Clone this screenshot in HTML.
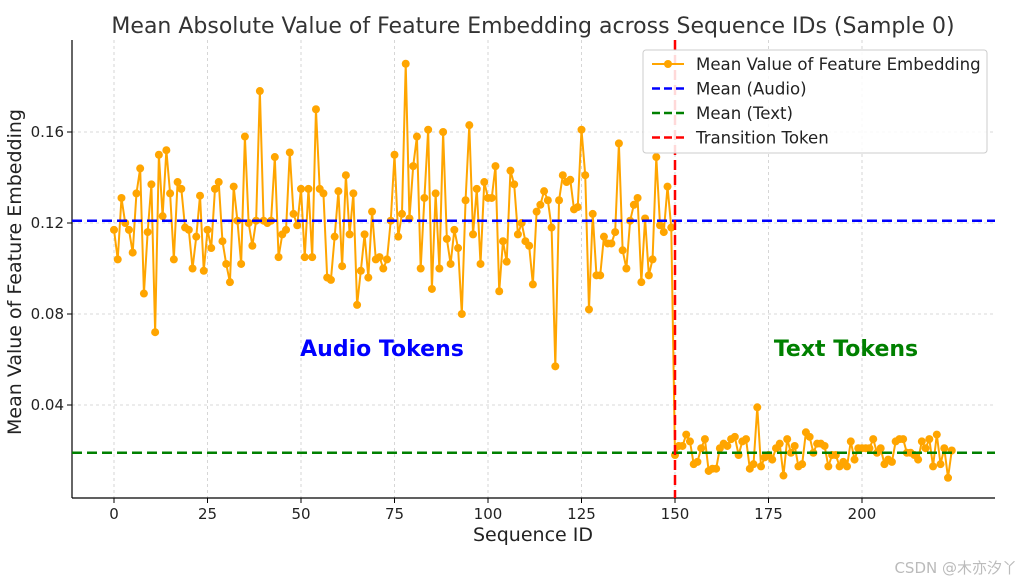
<!DOCTYPE html>
<html><head><meta charset="utf-8"><style>
body{margin:0;background:#fff;font-family:"DejaVu Sans",sans-serif}
svg text{font-family:"DejaVu Sans","Liberation Sans",sans-serif}
</style></head><body>
<svg id="c" width="1024" height="584"></svg>
<script>
const audioVals=[0.117,0.104,0.131,0.120,0.117,0.107,0.133,0.144,0.089,0.116,0.137,0.072,0.150,0.123,0.152,0.133,0.104,0.138,0.135,0.118,0.117,0.100,0.114,0.132,0.099,0.117,0.109,0.135,0.138,0.112,0.102,0.094,0.136,0.121,0.102,0.158,0.120,0.110,0.121,0.178,0.121,0.120,0.121,0.149,0.105,0.115,0.117,0.151,0.124,0.119,0.135,0.105,0.135,0.105,0.170,0.135,0.133,0.096,0.095,0.114,0.134,0.101,0.141,0.115,0.133,0.084,0.099,0.115,0.096,0.125,0.104,0.105,0.100,0.104,0.121,0.150,0.114,0.124,0.190,0.122,0.145,0.158,0.100,0.131,0.161,0.091,0.133,0.100,0.160,0.113,0.102,0.117,0.109,0.080,0.130,0.163,0.115,0.135,0.102,0.138,0.131,0.131,0.145,0.090,0.112,0.103,0.143,0.137,0.115,0.120,0.112,0.110,0.093,0.125,0.128,0.134,0.130,0.118,0.057,0.130,0.141,0.138,0.139,0.126,0.127,0.161,0.141,0.082,0.124,0.097,0.097,0.114,0.111,0.111,0.116,0.155,0.108,0.100,0.121,0.128,0.131,0.094,0.122,0.097,0.104,0.149,0.119,0.116,0.136,0.118];
const textVals=[0.018,0.022,0.022,0.027,0.024,0.014,0.015,0.021,0.025,0.011,0.012,0.012,0.021,0.023,0.022,0.025,0.026,0.018,0.024,0.025,0.012,0.014,0.039,0.013,0.017,0.018,0.016,0.021,0.023,0.009,0.025,0.019,0.022,0.013,0.014,0.028,0.026,0.019,0.023,0.023,0.022,0.013,0.018,0.018,0.013,0.015,0.013,0.024,0.016,0.021,0.021,0.021,0.021,0.025,0.019,0.021,0.014,0.016,0.015,0.024,0.025,0.025,0.019,0.019,0.018,0.016,0.024,0.021,0.025,0.013,0.027,0.014,0.021,0.008,0.020];
const xTicks=[0,25,50,75,100,125,150,175,200];
const yTicks=[0.04,0.08,0.12,0.16];
const yTickLabels=["0.04","0.08","0.12","0.16"];
const meanAudio=0.121, meanText=0.019, transition=150;

const NS="http://www.w3.org/2000/svg";
const svg=document.getElementById('c');
const L=72,R=995,T=40,B=498;
const X=i=>114+3.74*i;
const Y=v=>496-v*2275;
function el(tag,attrs,parent){const e=document.createElementNS(NS,tag);for(const k in attrs)e.setAttribute(k,attrs[k]);(parent||svg).appendChild(e);return e;}
function txt(s,attrs){const e=el('text',attrs);e.textContent=s;return e;}

xTicks.forEach(t=>{
  const g=el('line',{x1:X(t),x2:X(t),y1:T,y2:B,stroke:'#ccc','stroke-dasharray':'3,3','stroke-width':0.8});
  
  
  const tk=el('line',{x1:X(t),x2:X(t),y1:B,y2:B+5,stroke:'#000'});
  
  
  const lb=txt(String(t),{x:X(t),y:B+21,'text-anchor':'middle','font-size':15,fill:'#222'});
  
  
});
yTicks.forEach((t,i)=>{
  const g=el('line',{x1:L,x2:R,y1:Y(t),y2:Y(t),stroke:'#ccc','stroke-dasharray':'3,3','stroke-width':0.8});
  
  
  const tk=el('line',{x1:L-5,x2:L,y1:Y(t),y2:Y(t),stroke:'#000'});
  
  
  const lb=txt(yTickLabels[i],{x:L-8,y:Y(t)+5,'text-anchor':'end','font-size':15,fill:'#222'});
  
  
});
const sl=el('line',{x1:L,x2:L,y1:T,y2:B,stroke:'#000','stroke-width':1.2});


const sb=el('line',{x1:L,x2:R,y1:B,y2:B,stroke:'#000','stroke-width':1.2});



const all=audioVals.concat(textVals);
const pts=all.map((v,i)=>X(i)+','+Y(v)).join(' ');
const line=el('polyline',{points:pts,fill:'none',stroke:'#FFA500','stroke-width':2});


all.forEach((v,i)=>{
  const c=el('circle',{cx:X(i),cy:Y(v),r:4,fill:'#FFA500'});
  
  
});
const ma=el('line',{x1:L,x2:R,y1:Y(meanAudio),y2:Y(meanAudio),stroke:'#0000ff','stroke-width':2.5,'stroke-dasharray':'10,5'});


const mt=el('line',{x1:L,x2:R,y1:Y(meanText),y2:Y(meanText),stroke:'#008000','stroke-width':2.5,'stroke-dasharray':'10,5'});


const tr=el('line',{x1:X(transition),x2:X(transition),y1:T,y2:B,stroke:'#ff0000','stroke-width':2.5,'stroke-dasharray':'10,5'});



const a1=txt('Audio Tokens',{x:382,y:356,'text-anchor':'middle','font-size':22,'font-weight':'bold',fill:'#0000ff'});


const a2=txt('Text Tokens',{x:846,y:356,'text-anchor':'middle','font-size':22,'font-weight':'bold',fill:'#008000'});



const t1=txt('Mean Absolute Value of Feature Embedding across Sequence IDs (Sample 0)',{x:533,y:33,'text-anchor':'middle','font-size':22,fill:'#333'});


const t2=txt('Sequence ID',{x:533,y:541,'text-anchor':'middle','font-size':19,fill:'#222'});


const t3=txt('Mean Value of Feature Embedding',{x:0,y:0,'text-anchor':'middle','font-size':19,fill:'#222',transform:'translate(21,272) rotate(-90)'});



const lg=el('g',{});


el('rect',{x:643,y:50,width:344,height:103,rx:3,fill:'rgba(255,255,255,0.85)',stroke:'#ccc'},lg);
const items=[['Mean Value of Feature Embedding','#FFA500',null,true],['Mean (Audio)','#0000ff','8,4'],['Mean (Text)','#008000','8,4'],['Transition Token','#ff0000','8,4']];
items.forEach((it,i)=>{
  const y=64+i*24.5;
  const ln=el('line',{x1:652,x2:684,y1:y,y2:y,stroke:it[1],'stroke-width':it[3]?2:2.5},lg);
  if(it[2])ln.setAttribute('stroke-dasharray',it[2]);
  if(it[3])el('circle',{cx:668,cy:y,r:4,fill:it[1]},lg);
  const t=el('text',{x:696,y:y+6,'font-size':16.6,fill:'#222'},lg);t.textContent=it[0];
  
  
});
const wm=txt('CSDN @木亦汐丫',{x:1017,y:573,'text-anchor':'end','font-size':15,fill:'#bbb','font-family':'"DejaVu Sans","Noto Sans CJK SC",sans-serif'});


</script>
</body></html>
